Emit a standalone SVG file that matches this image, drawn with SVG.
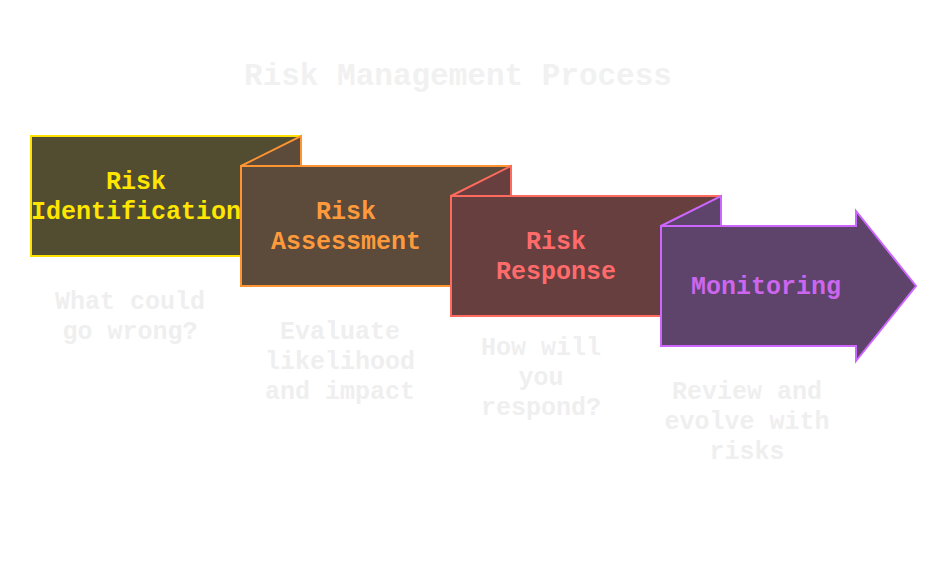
<svg xmlns="http://www.w3.org/2000/svg" width="948" height="588" viewBox="0 0 948 588">
<style>
text{font-family:"Liberation Mono","Courier New",monospace;font-weight:bold;text-anchor:middle}
.title{font-size:31px;fill:#F1F1F1}
.lbl{font-size:25px}
.desc{font-size:25px;fill:#EFEFEF}
.s{stroke-width:2;stroke-linejoin:miter}
</style>
<rect x="0" y="0" width="948" height="588" fill="#FFFFFF"/>
<text class="title" x="458" y="85">Risk Management Process</text>
<g id="connectors"></g>
<g id="node-identification">
<rect class="s" x="31" y="136" width="270" height="120" fill="#524D30" stroke="#FFE000"/>
<text class="lbl" fill="#FFE600" x="136" y="189">Risk</text>
<text class="lbl" fill="#FFE600" x="136" y="219">Identification</text>
<text class="desc" x="130" y="309">What could</text>
<text class="desc" x="130" y="339">go wrong?</text>
</g>
<g id="node-assessment">
<polygon class="s" points="241,166 301,136 301,166" fill="#5C4A3A" stroke="#FF9433"/>
<rect class="s" x="241" y="166" width="270" height="120" fill="#5C4A3A" stroke="#FF9433"/>
<text class="lbl" fill="#FF9A3C" x="346" y="219">Risk</text>
<text class="lbl" fill="#FF9A3C" x="346" y="249">Assessment</text>
<text class="desc" x="340" y="339">Evaluate</text>
<text class="desc" x="340" y="369">likelihood</text>
<text class="desc" x="340" y="399">and impact</text>
</g>
<g id="node-response">
<polygon class="s" points="451,196 511,166 511,196" fill="#673F3F" stroke="#FF6A5E"/>
<rect class="s" x="451" y="196" width="270" height="120" fill="#673F3F" stroke="#FF6A5E"/>
<text class="lbl" fill="#FF6B6B" x="556" y="249">Risk</text>
<text class="lbl" fill="#FF6B6B" x="556" y="279">Response</text>
<text class="desc" x="541" y="355">How will</text>
<text class="desc" x="541" y="385">you</text>
<text class="desc" x="541" y="415">respond?</text>
</g>
<g id="node-monitoring">
<polygon class="s" points="661,226 721,196 721,226" fill="#5E436B" stroke="#CC66FF"/>
<polygon class="s" points="661,226 856,226 856,211 916,286 856,361 856,346 661,346" fill="#5E436B" stroke="#CC66FF"/>
<text class="lbl" fill="#CC66EE" x="766" y="294">Monitoring</text>
<text class="desc" x="747" y="399">Review and</text>
<text class="desc" x="747" y="429">evolve with</text>
<text class="desc" x="747" y="459">risks</text>
</g>
</svg>
